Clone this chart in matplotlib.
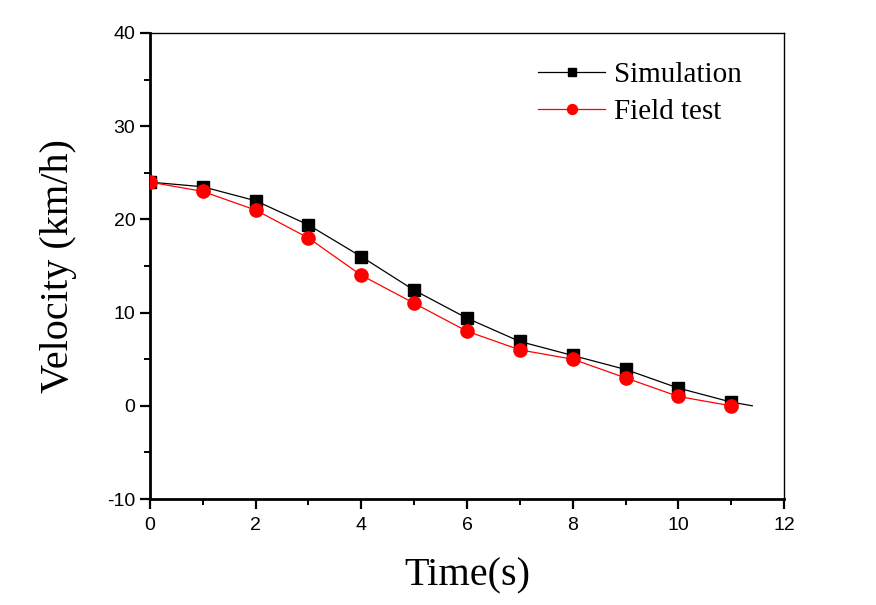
import matplotlib
matplotlib.use("Agg")
import matplotlib.pyplot as plt
from matplotlib.ticker import MultipleLocator

plt.rcParams["axes.unicode_minus"] = False

time_s = [0, 1, 2, 3, 4, 5, 6, 7, 8, 9, 10, 11]
sim_line_t = [0, 1, 2, 3, 4, 5, 6, 7, 8, 9, 10, 11, 11.4]
sim_line_v = [24, 23.5, 22, 19.4, 16, 12.4, 9.4, 6.9, 5.4, 3.9, 1.9, 0.4, 0.0]
field_v = [24, 23, 21, 18, 14, 11, 8, 6, 5, 3, 1, 0]

fig = plt.figure(figsize=(8.76, 6.05), dpi=100)
ax = fig.add_axes([0.1712, 0.1752, 0.7238, 0.7703])

ax.plot(sim_line_t, sim_line_v, color="black", lw=0.9, marker="s", ms=8,
        markevery=list(range(len(time_s))), label="Simulation", zorder=3)
ax.plot(time_s, field_v, color="red", lw=0.9, marker="o", ms=9.5,
        label="Field test", zorder=4)

ax.set_xlim(0, 12)
ax.set_ylim(-10, 40)
ax.xaxis.set_major_locator(MultipleLocator(2))
ax.xaxis.set_minor_locator(MultipleLocator(1))
ax.yaxis.set_major_locator(MultipleLocator(10))
ax.yaxis.set_minor_locator(MultipleLocator(5))

ax.tick_params(which="major", direction="out", length=7, width=1.6,
               labelsize=14, top=False, right=False)
ax.tick_params(axis="x", which="major", pad=6)
ax.tick_params(which="minor", direction="out", length=4, width=1.4,
               top=False, right=False)
for lab in ax.get_xticklabels() + ax.get_yticklabels():
    lab.set_family("Liberation Sans")

ax.spines["left"].set_linewidth(2.0)
ax.spines["bottom"].set_linewidth(2.0)
ax.spines["top"].set_linewidth(1.0)
ax.spines["right"].set_linewidth(1.0)

ax.set_xlabel("Time(s)", family="Liberation Serif", fontsize=29, labelpad=17)
ax.set_ylabel("Velocity (km/h)", family="Liberation Serif", fontsize=29, labelpad=22)

leg = ax.legend(loc="upper right", frameon=False,
                prop={"family": "Liberation Serif", "size": 21},
                handlelength=2.3, markerscale=0.75, labelspacing=0.38,
                handletextpad=0.3, bbox_to_anchor=(0.975, 0.995))

fig.savefig("out.png", dpi=100)
